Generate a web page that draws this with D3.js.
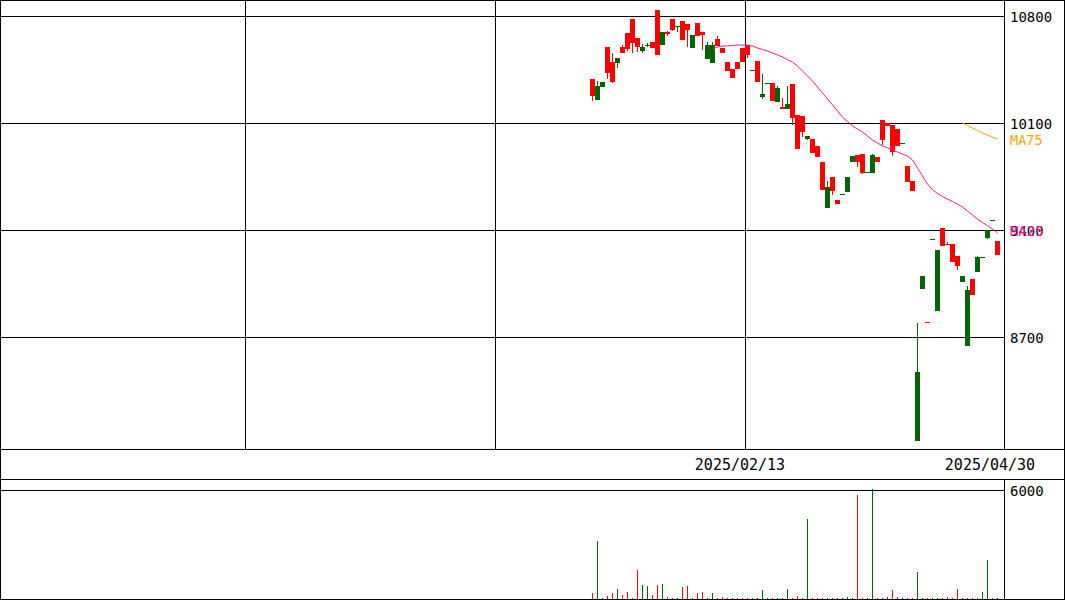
<!DOCTYPE html>
<html><head><meta charset="utf-8">
<script src="https://cdn.jsdelivr.net/npm/d3@7"></script>
<style>
body{margin:0;background:#fff}
svg{display:block}
text{font-family:"DejaVu Sans Mono","Liberation Mono",monospace}
</style>
</head><body>
<svg id="chart" width="1065" height="600"></svg>
<script>
// ---- data (candle index 0..81, last = 2025/04/30) ----
const openP = [10277,10342,10368,10427,10368,10525,10558,10584,10623,10597,10597,10612,10591,10545,10695,10682,10708,10737,10643,10708,10676,10669,10676,10610,10610,10604,10558,10440,10394,10453,10499,10545,10449,10368,10290,10364,10244,10329,10192,10224,10133,9930,10041,10015,9904,9878,9662,9681,9655,9570,9638,9747,9884,9845,9773,9782,9891,9845,9989,10080,9910,9950,9971,9714,9655,8471,9099,8796,9343,9269,9295,9306,9191,9165,9099,9007,8975,9223,9225,9400,9467,9236];
const highP = [10388,10375,10368,10597,10558,10525,10610,10689,10780,10656,10617,10623,10630,10839,10695,10702,10780,10737,10767,10748,10676,10754,10695,10630,10630,10669,10591,10499,10453,10499,10591,10610,10449,10506,10421,10364,10362,10342,10264,10342,10355,10152,10146,10015,9995,9950,9845,9721,9747,9596,9638,9747,9884,9891,9897,9782,9897,9878,10120,10100,10087,10061,9971,9819,9721,8792,9099,8800,9343,9269,9413,9322,9308,9230,9099,9034,9080,9230,9225,9400,9467,9328];
const lowP = [10244,10250,10336,10388,10362,10460,10558,10571,10558,10565,10558,10597,10591,10545,10610,10669,10702,10695,10643,10597,10591,10669,10578,10519,10493,10604,10558,10440,10394,10453,10499,10525,10445,10368,10257,10360,10244,10237,10192,10192,10087,9930,10008,9989,9904,9878,9662,9544,9629,9570,9634,9649,9845,9812,9766,9778,9773,9845,9956,10080,9884,9950,9967,9714,9655,8020,9014,8796,9339,8870,9295,9306,9191,9138,9060,8641,8975,9125,9221,9341,9463,9236];
const closeP = [10388,10250,10336,10597,10499,10493,10597,10689,10780,10656,10571,10608,10630,10839,10610,10695,10780,10733,10767,10748,10591,10754,10695,10519,10493,10650,10591,10499,10453,10499,10591,10610,10445,10506,10270,10360,10362,10237,10205,10192,10355,10152,10146,9995,9995,9950,9845,9544,9747,9596,9634,9649,9845,9891,9897,9778,9773,9878,10120,10100,10087,10061,9967,9819,9721,8020,9014,8800,9339,8870,9413,9310,9308,9230,9060,8641,9080,9125,9221,9348,9463,9328];
const volume = [330,3190,20,165,330,550,220,385,55,1600,770,715,220,770,825,110,30,55,660,715,20,330,385,20,330,20,110,55,30,30,30,55,20,20,495,20,20,20,55,550,55,165,55,4400,55,20,55,55,20,20,20,110,20,5730,20,20,6060,20,30,110,495,110,20,20,20,1490,20,20,55,20,20,110,55,550,20,20,20,55,385,2150,20,30];
const ma25Start = 24;
const ma25 = [10584,10597,10604,10604,10607,10610,10610,10610,10604,10591,10581,10571,10558,10545,10532,10515,10499,10473,10440,10408,10375,10336,10296,10257,10218,10179,10139,10110,10080,10061,10041,10015,9989,9969,9950,9937,9924,9910,9897,9884,9858,9806,9753,9701,9662,9639,9619,9603,9586,9570,9550,9524,9498,9472,9449,9429,9407,9380];
const ma75Start = 74;
const ma75 = [10100,10084,10067,10051,10035,10021,10008,9995];
const priceTicks = [10800,10100,9400,8700];
const volumeTicks = [6000];
const dateTickIndex = [31,81];
const dateTickLabel = ["2025/02/13","2025/04/30"];
const gridIndex = [-69,-19,31];

// ---- layout ----
const W = 1065, H = 600;
const plotRight = 1004;
const mainBottom = 449;
const dateBottom = 479;
const volBottom = 599;
const firstSlot = 118, slotCount = 200;
const UP = "#ff0000", DOWN = "#006400";
const MA25C = "#f0198c", MA75C = "#ffa500";

const svg = d3.select("#chart").attr("shape-rendering","crispEdges");

const x = d3.scaleLinear().domain([0, slotCount]).range([0, 1000]);
const slotX = i => Math.round(x(firstSlot + i));
const y = d3.scaleLinear().domain([10800, 8700]).range([16, 337]);
const vy = d3.scaleLinear().domain([0, 6000]).range([volBottom, 490]);

svg.append("rect").attr("width",W).attr("height",H).attr("fill","#fff");

const clip = svg.append("clipPath").attr("id","mainClip");
clip.append("rect").attr("x",0).attr("y",0).attr("width",plotRight).attr("height",mainBottom);

// grid lines
const grid = svg.append("g").attr("stroke","#000").attr("stroke-width",1);
priceTicks.forEach(v=>{
  const yy = Math.round(y(v))+0.5;
  grid.append("line").attr("x1",0).attr("x2",plotRight).attr("y1",yy).attr("y2",yy);
});
gridIndex.forEach(i=>{
  const xx = slotX(i)+0.5;
  grid.append("line").attr("x1",xx).attr("x2",xx).attr("y1",0).attr("y2",mainBottom);
});
volumeTicks.forEach(v=>{
  const yy = Math.round(vy(v))+0.5;
  grid.append("line").attr("x1",0).attr("x2",plotRight).attr("y1",yy).attr("y2",yy);
});

// candles
const idx = d3.range(openP.length);
const cg = svg.append("g").attr("clip-path","url(#mainClip)");
idx.forEach(i=>{
  const o = openP[i], c = closeP[i];
  const col = c >= o ? UP : DOWN;
  const x0 = slotX(i);
  const yh = Math.round(y(highP[i])), yl = Math.round(y(lowP[i]));
  cg.append("rect").attr("x",x0+2).attr("width",1).attr("y",yh).attr("height",Math.max(1,yl-yh)).attr("fill",col);
  const yt = Math.round(y(Math.max(o,c))), yb = Math.round(y(Math.min(o,c)));
  cg.append("rect").attr("x",x0).attr("width",5).attr("y",yt).attr("height",Math.max(1,yb-yt)).attr("fill",col);
});

// moving averages
const line = d3.line().x(d=>slotX(d[0])+2.5).y(d=>y(d[1]));
const ma25Pts = ma25.map((v,j)=>[ma25Start+j, v]);
const ma75Pts = ma75.map((v,j)=>[ma75Start+j, v]);
cg.append("path").attr("d",line(ma25Pts)).attr("fill","none").attr("stroke",MA25C).attr("stroke-width",1).attr("shape-rendering","auto");
cg.append("path").attr("d",line(ma75Pts)).attr("fill","none").attr("stroke",MA75C).attr("stroke-width",1).attr("shape-rendering","auto");

// volume bars
idx.forEach(i=>{
  const col = closeP[i] >= openP[i] ? UP : DOWN;
  const top = Math.round(vy(volume[i]));
  svg.append("rect").attr("x",slotX(i)+2).attr("width",1)
    .attr("y",Math.min(top, volBottom-1)).attr("height",Math.max(1, volBottom-top)).attr("fill",col);
});

// frames
const fr = svg.append("g").attr("stroke","#000").attr("stroke-width",1).attr("fill","none");
fr.append("rect").attr("x",0.5).attr("y",0.5).attr("width",W-1).attr("height",volBottom);
fr.append("line").attr("x1",0).attr("x2",W).attr("y1",mainBottom+0.5).attr("y2",mainBottom+0.5);
fr.append("line").attr("x1",0).attr("x2",W).attr("y1",dateBottom+0.5).attr("y2",dateBottom+0.5);
fr.append("line").attr("x1",plotRight+0.5).attr("x2",plotRight+0.5).attr("y1",0).attr("y2",mainBottom);
fr.append("line").attr("x1",plotRight+0.5).attr("x2",plotRight+0.5).attr("y1",dateBottom).attr("y2",volBottom);

// labels
const tg = svg.append("g").attr("font-size","14px").attr("fill","#000");
priceTicks.forEach(v=>{
  tg.append("text").attr("x",1010).attr("y",Math.round(y(v))+1).attr("dy","0.35em").text(v);
});
volumeTicks.forEach(v=>{
  tg.append("text").attr("x",1010).attr("y",Math.round(vy(v))+1).attr("dy","0.35em").text(v);
});
dateTickIndex.forEach((i,j)=>{
  svg.append("text").attr("x",slotX(i)-5).attr("y",465).attr("dy","0.35em")
    .attr("text-anchor","middle").attr("font-size","15px").attr("fill","#000").text(dateTickLabel[j]);
});
svg.append("text").attr("x",1010).attr("y",Math.round(y(ma75[ma75.length-1]))+1).attr("dy","0.35em")
  .attr("font-size","13.5px").attr("fill",MA75C).text("MA75");
svg.append("text").attr("x",1010).attr("y",Math.round(y(ma25[ma25.length-1]))-2).attr("dy","0.35em")
  .attr("font-size","14px").attr("fill",MA25C).text("MA25");
</script>
</body></html>
